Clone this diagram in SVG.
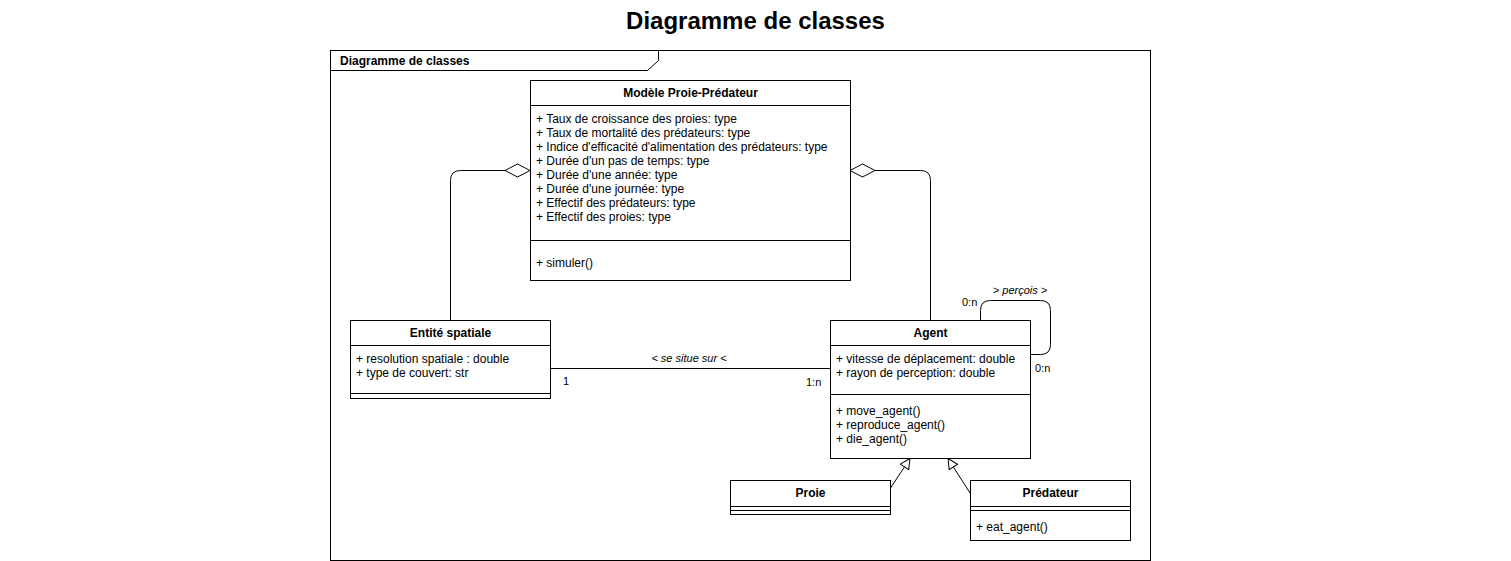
<svg xmlns="http://www.w3.org/2000/svg" width="1511" height="561" viewBox="0 0 1511 561">
<style>
text{font-family:"Liberation Sans",Arial,sans-serif;font-size:12px;fill:#000}
.t{font-size:24px;font-weight:bold}
.h{font-size:12px;font-weight:bold}
.f{font-size:12px;font-weight:bold}
.i{font-style:italic;font-size:11px}
.s{font-size:11px}
.b{fill:#fff;stroke:#000;stroke-width:1}
.l{fill:none;stroke:#000;stroke-width:1}
</style>
<defs>
<marker id="tri" markerWidth="12" markerHeight="12" refX="11" refY="6" orient="auto" markerUnits="userSpaceOnUse">
<path d="M1,1 L11,6 L1,11 Z" fill="#fff" stroke="#000"/>
</marker>
</defs>
<rect width="1511" height="561" fill="#fff"/>
<text class="t" x="755.5" y="29" text-anchor="middle">Diagramme de classes</text>
<g id="frame">
<rect x="330.5" y="50.5" width="820" height="510" class="l"/>
<path d="M330.5,70.5 H647.5 L658.5,60.5 V50.5" class="l"/>
<text class="f" x="340" y="65">Diagramme de classes</text>
</g>
<g id="connectors">
<path d="M450.5,320 V180.5 Q450.5,170.5 460.5,170.5 H505" class="l"/>
<path d="M505,170.5 L517.5,164 L530,170.5 L517.5,177 Z" class="b"/>
<path d="M930.5,320 V180.5 Q930.5,170.5 920.5,170.5 H875" class="l"/>
<path d="M875,170.5 L862.5,164 L850,170.5 L862.5,177 Z" class="b"/>
<path d="M550,368.5 H830" class="l"/>
<text class="i" x="689" y="362" text-anchor="middle">&lt; se situe sur &lt;</text>
<text class="s" x="563" y="385">1</text>
<text class="s" x="806" y="386">1:n</text>
<path d="M980.5,320 V310.5 Q980.5,300.5 990.5,300.5 H1040.5 Q1050.5,300.5 1050.5,310.5 V344.5 Q1050.5,354.5 1040.5,354.5 H1030" class="l"/>
<text class="i" x="1020" y="294" text-anchor="middle">&gt; perçois &gt;</text>
<text class="s" x="962" y="306">0:n</text>
<text class="s" x="1035" y="372">0:n</text>
<path d="M890.5,488 L910,458.5" class="l" marker-end="url(#tri)"/>
<path d="M970,493 L948,458.5" class="l" marker-end="url(#tri)"/>
</g>
<g id="modele">
<rect x="530.5" y="80.5" width="320" height="200" class="b"/>
<text class="h" x="690.5" y="97" text-anchor="middle">Modèle Proie-Prédateur</text>
<path d="M530.5,105.5 H850.5 M530.5,240.5 H850.5" class="l"/>
<text x="536" y="123">+ Taux de croissance des proies: type</text>
<text x="536" y="137">+ Taux de mortalité des prédateurs: type</text>
<text x="536" y="151">+ Indice d'efficacité d'alimentation des prédateurs: type</text>
<text x="536" y="165">+ Durée d'un pas de temps: type</text>
<text x="536" y="179">+ Durée d'une année: type</text>
<text x="536" y="193">+ Durée d'une journée: type</text>
<text x="536" y="207">+ Effectif des prédateurs: type</text>
<text x="536" y="221">+ Effectif des proies: type</text>
<text x="536" y="267">+ simuler()</text>
</g>
<g id="entite">
<rect x="350.5" y="320.5" width="200" height="78" class="b"/>
<text class="h" x="450.5" y="337" text-anchor="middle">Entité spatiale</text>
<path d="M350.5,345.5 H550.5 M350.5,393.5 H550.5" class="l"/>
<text x="356" y="363">+ resolution spatiale : double</text>
<text x="356" y="377">+ type de couvert: str</text>
</g>
<g id="agent">
<rect x="830.5" y="320.5" width="200" height="138" class="b"/>
<text class="h" x="930.5" y="337" text-anchor="middle">Agent</text>
<path d="M830.5,345.5 H1030.5 M830.5,394.5 H1030.5" class="l"/>
<text x="836" y="363">+ vitesse de déplacement: double</text>
<text x="836" y="377">+ rayon de perception: double</text>
<text x="836" y="415">+ move_agent()</text>
<text x="836" y="429">+ reproduce_agent()</text>
<text x="836" y="443">+ die_agent()</text>
</g>
<g id="proie">
<rect x="730.5" y="480.5" width="160" height="34" class="b"/>
<text class="h" x="810.5" y="497" text-anchor="middle">Proie</text>
<path d="M730.5,506.5 H890.5 M730.5,510.5 H890.5" class="l"/>
</g>
<g id="predateur">
<rect x="970.5" y="480.5" width="160" height="60" class="b"/>
<text class="h" x="1050.5" y="497" text-anchor="middle">Prédateur</text>
<path d="M970.5,506.5 H1130.5 M970.5,510.5 H1130.5" class="l"/>
<text x="976" y="531">+ eat_agent()</text>
</g>
</svg>
